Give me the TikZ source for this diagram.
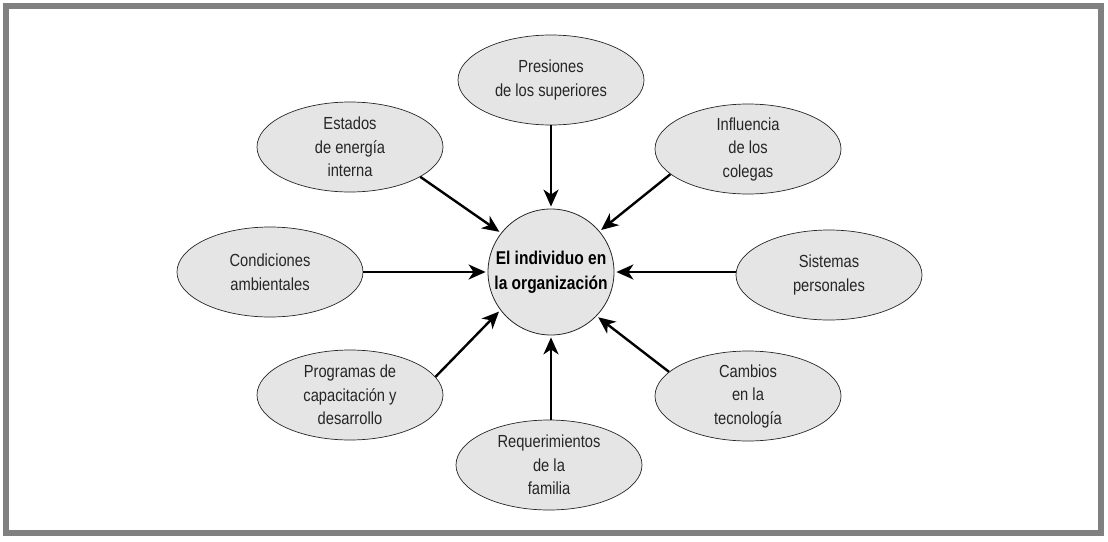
\documentclass[tikz,border=0pt]{standalone}
\usepackage{fontspec}
\setmainfont{Liberation Sans}[FakeStretch=0.84]
\usetikzlibrary{shapes.geometric,arrows.meta}
\begin{document}
\begin{tikzpicture}[x=1pt,y=-1pt,
  ell/.style={ellipse,draw=black!85,line width=0.7pt,fill=black!10,minimum width=186pt,minimum height=90pt,inner sep=0pt,align=center,font=\fontsize{17.5}{23.5}\selectfont,text=black!85},
  hub/.style={circle,draw=black!85,line width=0.8pt,fill=black!10,minimum size=126pt,inner sep=0pt,align=center,font=\fontsize{18.5}{25}\selectfont\bfseries},
  arr/.style={line width=2.4pt,-{Stealth[length=17pt,width=15pt,inset=5pt]},shorten >=2pt}]
\useasboundingbox (0,0) rectangle (1108,541);
\draw[line width=6pt,color=black!50] (6,6) rectangle (1101,533);
\node[hub] (c) at (551,272) {El individuo en\\la organización};
\node[ell] (n) at (551,80) {Presiones\\de los superiores};
\node[ell] (nw) at (350,147) {Estados\\de energía\\interna};
\node[ell] (ne) at (748,149) {Influencia\\de los\\colegas};
\node[ell] (w) at (270,272) {Condiciones\\ambientales};
\node[ell] (e) at (829,275) {Sistemas\\personales};
\node[ell] (sw) at (350,395) {Programas de\\capacitación y\\desarrollo};
\node[ell] (se) at (748,396) {Cambios\\en la\\tecnología};
\node[ell] (s) at (549,465) {Requerimientos\\de la\\familia};
\draw[arr] (n.south -| c) -- (c.north);
\draw[arr] (nw.-23) -- (c.142);
\draw[arr] (ne.198) -- (c.40);
\draw[arr] (w.east |- c) -- (c.west);
\draw[arr] (e.west |- c) -- (c.east);
\draw[arr] (sw.12) -- (c.217);
\draw[arr] (se.163) -- (c.316);
\draw[arr] (s.north -| c) -- (c.south);
\end{tikzpicture}
\end{document}
